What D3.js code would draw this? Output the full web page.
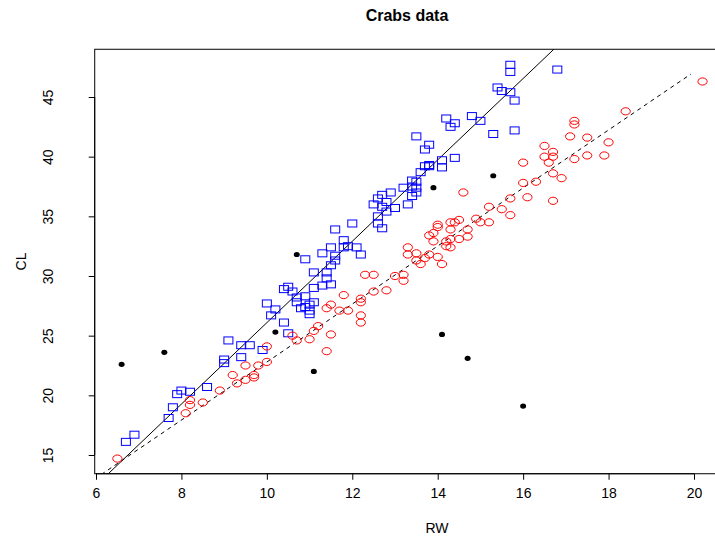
<!DOCTYPE html>
<html>
<head>
<meta charset="utf-8">
<script src="https://cdn.jsdelivr.net/npm/d3@7/dist/d3.min.js"></script>
<style>
  body { margin: 0; background: #fff; }
  svg text { font-family: "Liberation Sans", Arial, sans-serif; fill: #000; }
</style>
</head>
<body>
<div id="chart"></div>
<script>
// blue squares
var maleRW = [6.7, 6.9, 7.7, 7.8, 7.9, 8.0, 8.2, 8.6, 9.0, 9.0, 9.1, 9.4, 9.4, 9.6, 9.9,
  10.0, 10.2, 10.1, 10.4, 10.5, 10.4, 10.5, 10.6, 10.7, 10.7, 10.9, 10.8, 10.9, 11.0, 11.0,
  11.0, 11.1, 11.1, 11.1, 11.3, 11.5, 11.4, 11.4, 10.9, 11.3, 11.5, 11.6, 11.6, 11.5, 11.6,
  11.8, 11.8, 11.9, 12.1, 12.2, 12.0, 12.5, 12.6, 12.6, 12.6, 12.7, 12.7, 12.8, 12.8, 12.9,
  13.0, 13.2, 13.3, 13.4, 13.4, 13.5, 13.5, 13.4, 13.5, 13.6, 13.7, 13.8, 13.8, 14.1, 14.1,
  14.4, 13.7, 13.8, 13.5, 14.2, 14.4, 14.3, 14.8, 15.0, 15.3, 15.8, 15.4, 15.5, 15.7, 15.8,
  15.7, 15.7, 16.8, 12.7];
var maleCL = [16.1, 16.7, 18.1, 19.0, 20.1, 20.4, 20.3, 20.7, 23.0, 22.7, 24.6, 23.2, 24.2, 24.2, 23.8,
  27.7, 27.2, 26.7, 26.1, 25.2, 28.9, 29.1, 28.7, 28.2, 27.8, 28.3, 27.3, 27.4, 27.6, 27.1,
  26.8, 27.8, 29.0, 30.3, 29.2, 29.3, 29.8, 30.3, 31.4, 31.9, 32.4, 31.7, 31.3, 30.9, 33.9,
  33.0, 32.4, 32.5, 32.4, 31.8, 34.4, 36.0, 35.0, 34.4, 36.5, 36.8, 35.8, 36.2, 35.4, 37.0,
  35.7, 37.4, 36.0, 38.0, 37.5, 37.4, 37.0, 36.7, 37.9, 38.7, 39.2, 39.2, 39.3, 39.7, 39.1,
  39.9, 40.6, 41.0, 41.7, 43.2, 42.8, 42.5, 43.4, 43.0, 41.9, 42.2, 45.8, 45.5, 45.4, 44.7,
  47.7, 47.1, 47.3, 34.0];

// red circles
var femaleRW = [6.5, 8.1, 8.2, 8.2, 8.5, 8.9, 9.2, 9.3, 9.5, 9.5, 9.7, 9.7, 9.8, 10.0, 10.0,
  10.6, 10.7, 11.0, 11.1, 11.2, 11.4, 11.5, 11.7, 11.9, 11.8, 11.5, 11.4, 12.2, 12.2, 12.2,
  12.2, 12.3, 12.5, 12.5, 12.8, 13.0, 13.2, 13.2, 13.3, 13.3, 13.5, 13.5, 13.6, 13.7, 13.8,
  14.0, 14.1, 13.9, 13.8, 13.9, 14.0, 14.0, 14.3, 14.3, 14.4, 14.5, 14.7, 14.7, 14.5, 14.2,
  14.3, 14.2, 14.3, 14.9, 15.0, 15.2, 15.2, 15.5, 15.7, 15.7, 16.1, 16.7, 16.0, 16.3, 16.7,
  16.9, 16.0, 16.6, 16.5, 16.7, 16.5, 16.7, 17.2, 17.5, 17.9, 17.1, 17.5, 18.0, 17.2, 17.2,
  18.4, 20.2, 14.6];
var femaleCL = [14.7, 18.5, 19.6, 19.2, 19.4, 20.4, 21.7, 21.0, 21.3, 22.5, 21.7, 21.5, 22.5, 22.8, 24.1,
  25.0, 24.6, 24.7, 25.4, 25.8, 27.3, 27.6, 27.1, 27.1, 28.4, 25.1, 23.7, 28.1, 27.8, 26.7,
  26.1, 30.1, 30.1, 28.7, 28.8, 30.0, 30.1, 29.6, 32.4, 31.8, 31.9, 31.3, 31.0, 31.5, 31.8,
  31.6, 31.0, 32.9, 33.4, 33.6, 34.1, 34.3, 33.9, 34.5, 34.5, 34.7, 33.9, 33.3, 33.1, 32.9,
  32.4, 32.5, 33.1, 34.8, 34.5, 34.5, 35.8, 35.6, 35.1, 36.5, 36.6, 36.3, 37.8, 37.9, 38.6,
  38.2, 39.5, 39.5, 40.0, 40.0, 40.9, 40.4, 39.8, 40.1, 40.1, 41.7, 41.6, 41.2, 43.0, 42.7,
  43.8, 46.3, 37.0];

// black dots
var otherRW = [6.6, 7.6, 10.2, 10.7, 11.1, 13.9, 14.1, 14.7, 15.3, 16.0];
var otherCL = [22.6, 23.6, 25.3, 31.8, 22.0, 37.4, 25.1, 23.1, 38.4, 19.1];

// fitted lines: [intercept, slope]
var fitSolid = [-8.01, 3.41];
var fitDashed = [-1.52, 2.431];
var dashedEndRW = 19.93;

var xTicks = [6, 8, 10, 12, 14, 16, 18, 20];
var yTicks = [15, 20, 25, 30, 35, 40, 45];
var xLim = [5.97, 20.75];
var yLim = [13.43, 49.0];

var W = 715, H = 541;

var svg = d3.select("#chart")
    .append("svg")
    .attr("width", W)
    .attr("height", H);

var x = d3.scaleLinear().domain([6, 20]).range([96, 694]);
var y = d3.scaleLinear().domain([15, 45]).range([455, 97]);

var pLeft = x(xLim[0]), pRight = x(xLim[1]);
var pTop = y(yLim[1]), pBottom = y(yLim[0]);

svg.append("clipPath")
    .attr("id", "plotclip")
    .append("rect")
    .attr("x", pLeft)
    .attr("y", pTop)
    .attr("width", pRight - pLeft)
    .attr("height", pBottom - pTop);

var plot = svg.append("g").attr("clip-path", "url(#plotclip)");

// solid line across the whole plot
plot.append("line")
    .attr("x1", x(xLim[0]))
    .attr("y1", y(fitSolid[0] + fitSolid[1] * xLim[0]))
    .attr("x2", x(xLim[1]))
    .attr("y2", y(fitSolid[0] + fitSolid[1] * xLim[1]))
    .attr("stroke", "#000")
    .attr("stroke-width", 1);

// dashed line
plot.append("line")
    .attr("x1", x(xLim[0]))
    .attr("y1", y(fitDashed[0] + fitDashed[1] * xLim[0]))
    .attr("x2", x(dashedEndRW))
    .attr("y2", y(fitDashed[0] + fitDashed[1] * dashedEndRW))
    .attr("stroke", "#000")
    .attr("stroke-width", 1)
    .attr("stroke-dasharray", "4,4");

plot.selectAll("rect.m")
    .data(d3.range(maleRW.length))
    .enter().append("rect")
    .attr("class", "m")
    .attr("x", function(i) { return x(maleRW[i]) - 4.5; })
    .attr("y", function(i) { return y(maleCL[i]) - 3.5; })
    .attr("width", 9)
    .attr("height", 7)
    .attr("fill", "none")
    .attr("stroke", "blue")
    .attr("stroke-width", 1);

plot.selectAll("ellipse.f")
    .data(d3.range(femaleRW.length))
    .enter().append("ellipse")
    .attr("class", "f")
    .attr("cx", function(i) { return x(femaleRW[i]); })
    .attr("cy", function(i) { return y(femaleCL[i]); })
    .attr("rx", 4.6)
    .attr("ry", 3.6)
    .attr("fill", "none")
    .attr("stroke", "red")
    .attr("stroke-width", 1);

plot.selectAll("ellipse.o")
    .data(d3.range(otherRW.length))
    .enter().append("ellipse")
    .attr("class", "o")
    .attr("cx", function(i) { return x(otherRW[i]); })
    .attr("cy", function(i) { return y(otherCL[i]); })
    .attr("rx", 3)
    .attr("ry", 2.6)
    .attr("fill", "#000");

// box
svg.append("rect")
    .attr("x", pLeft)
    .attr("y", pTop)
    .attr("width", pRight - pLeft)
    .attr("height", pBottom - pTop)
    .attr("fill", "none")
    .attr("stroke", "#000")
    .attr("stroke-width", 1);

// axes
var xAxis = d3.axisBottom(x).tickValues(xTicks).tickSize(6).tickPadding(8).tickSizeOuter(0);
var gx = svg.append("g")
    .attr("transform", "translate(0," + pBottom + ")")
    .call(xAxis);
gx.select(".domain").attr("d", "M" + x(xTicks[0]) + ",0H" + x(xTicks[xTicks.length - 1]));
gx.selectAll("text").attr("font-size", 14).attr("font-family", null);

var yAxis = d3.axisLeft(y).tickValues(yTicks).tickSize(6).tickFormat(d3.format("d")).tickSizeOuter(0);
var gy = svg.append("g")
    .attr("transform", "translate(" + pLeft + ",0)")
    .call(yAxis);
gy.select(".domain").attr("d", "M0," + y(yTicks[0]) + "V" + y(yTicks[yTicks.length - 1]));
gy.selectAll("text")
    .attr("font-size", 14)
    .attr("font-family", null)
    .attr("x", null)
    .attr("dy", null)
    .attr("text-anchor", "middle")
    .attr("transform", "translate(-42,0) rotate(-90)");

svg.append("text")
    .attr("x", 407)
    .attr("y", 21)
    .attr("text-anchor", "middle")
    .attr("font-size", 16)
    .attr("font-weight", "bold")
    .text("Crabs data");

svg.append("text")
    .attr("x", 437)
    .attr("y", 533)
    .attr("text-anchor", "middle")
    .attr("font-size", 14)
    .text("RW");

svg.append("text")
    .attr("transform", "translate(26," + ((pTop + pBottom) / 2) + ") rotate(-90)")
    .attr("text-anchor", "middle")
    .attr("font-size", 14)
    .text("CL");
</script>
</body>
</html>
